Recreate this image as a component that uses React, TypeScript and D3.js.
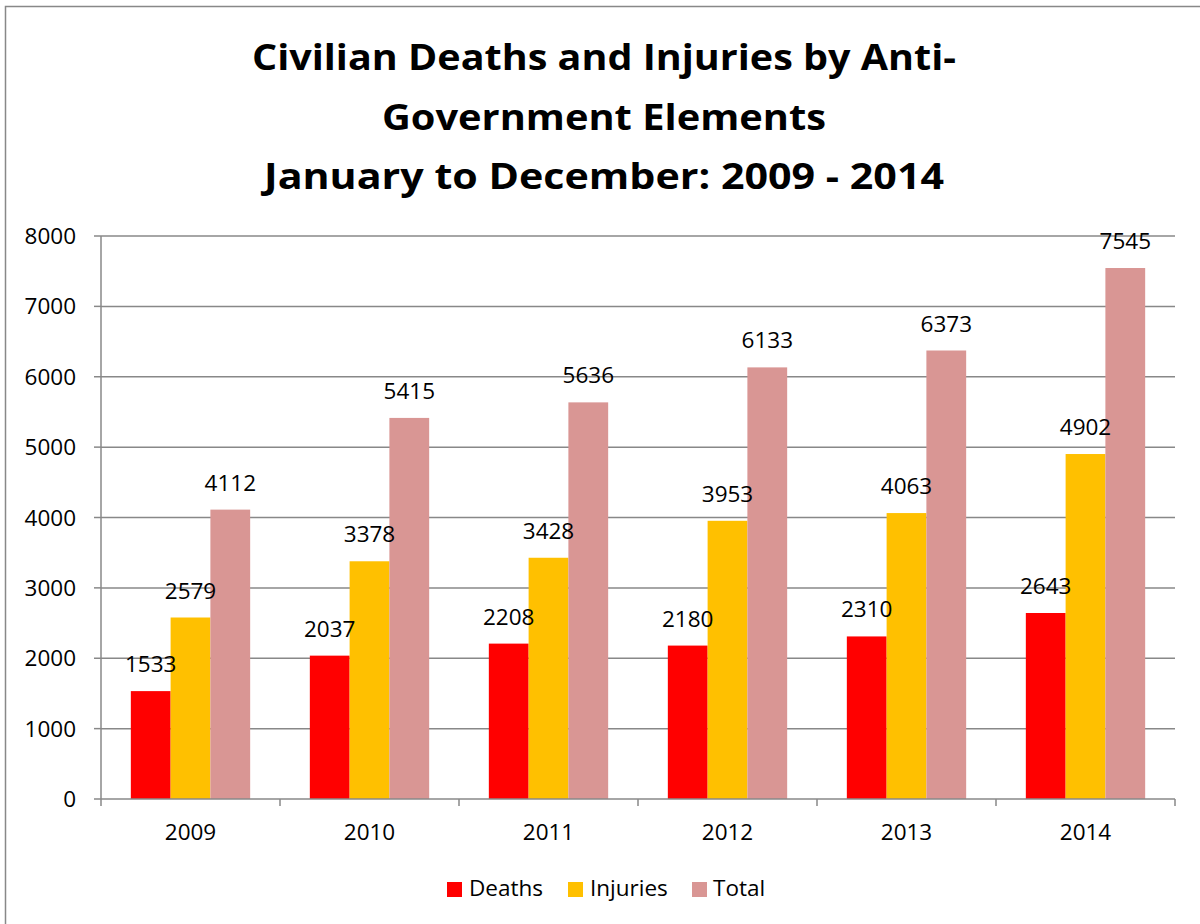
import React from "react";
import * as d3 from "d3";

const years = ["2009", "2010", "2011", "2012", "2013", "2014"];
const deaths = [1533, 2037, 2208, 2180, 2310, 2643];
const injuries = [2579, 3378, 3428, 3953, 4063, 4902];
const totals = [4112, 5415, 5636, 6133, 6373, 7545];
const seriesNames = ["Deaths", "Injuries", "Total"];
const seriesColors = ["#FF0000", "#FFC000", "#D99694"];
const yTicks = [0, 1000, 2000, 3000, 4000, 5000, 6000, 7000, 8000];
const titleLines = [
  "Civilian Deaths and Injuries by Anti-",
  "Government Elements",
  "January to December: 2009 - 2014",
];

const W = 1200;
const H = 924;
const left = 101;
const right = 1175;
const top = 236;
const bottom = 799;
const FONT = "'Open Sans', 'Liberation Sans', sans-serif";
const FS = 22.5;

export default function App() {
  const series = [deaths, injuries, totals];
  const x = d3.scaleBand<string>().domain(years).range([left, right]).paddingInner(0).paddingOuter(0);
  const y = d3.scaleLinear().domain([0, 8000]).range([bottom, top]);
  const bw = x.bandwidth();
  const barW = bw / (3 + 1.5);
  const groupPad = (bw - 3 * barW) / 2;
  const xs = d3.scaleBand<number>().domain([0, 1, 2]).range([0, 3 * barW]).padding(0);
  const barX = (i: number, k: number) => (x(years[i]) as number) + groupPad + (xs(k) as number);

  const titleLengths = [704, 444, 680];
  const titleBaselines = [70, 130, 189];

  const legendItems = [
    { sq: 447, tx: 469 },
    { sq: 568, tx: 590 },
    { sq: 692, tx: 713 },
  ];

  return (
    <svg
      width={W}
      height={H}
      style={{ position: "absolute", left: 0, top: 0, background: "#fff" }}
      fontFamily={FONT}
    >
      <rect x={0} y={0} width={W} height={H} fill="#fff" />
      <rect x={5.5} y={6.5} width={W + 20} height={H + 20} fill="none" stroke="#888" strokeWidth={1.5} />

      {titleLines.map((t, i) => (
        <text
          key={i}
          x={W / 2 + 4}
          y={titleBaselines[i]}
          textAnchor="middle"
          fontSize={36}
          fontWeight="bold"
          fill="#000"
          textLength={titleLengths[i]}
          lengthAdjust="spacingAndGlyphs"
        >
          {t}
        </text>
      ))}

      {/* gridlines */}
      {yTicks.map((t) => (
        <g key={t}>
          {t > 0 && (
            <line x1={left} x2={right} y1={y(t)} y2={y(t)} stroke="#888" strokeWidth={1.5} />
          )}
          <line x1={94} x2={left} y1={y(t)} y2={y(t)} stroke="#888" strokeWidth={1.5} />
          <text x={76} y={y(t)} dy="0.36em" textAnchor="end" fontSize={FS} fill="#000">
            {t}
          </text>
        </g>
      ))}

      {/* bars */}
      {years.map((yr, i) => (
        <g key={yr}>
          {series.map((s, k) => (
            <rect
              key={k}
              x={barX(i, k)}
              y={y(s[i])}
              width={xs.bandwidth()}
              height={bottom - y(s[i])}
              fill={seriesColors[k]}
            />
          ))}
        </g>
      ))}

      {/* axes */}
      <line x1={left} x2={left} y1={top} y2={bottom} stroke="#888" strokeWidth={1.5} />
      <line x1={left} x2={right} y1={bottom} y2={bottom} stroke="#888" strokeWidth={1.5} />
      {years.map((yr) => (
        <line key={"t" + yr} x1={x(yr)} x2={x(yr)} y1={bottom} y2={806} stroke="#888" strokeWidth={1.5} />
      ))}
      <line x1={right} x2={right} y1={bottom} y2={806} stroke="#888" strokeWidth={1.5} />

      {/* data labels on top */}
      {years.map((yr, i) => (
        <g key={"dl" + yr}>
          {series.map((s, k) => (
            <text
              key={k}
              x={barX(i, k) + xs.bandwidth() / 2}
              y={y(s[i]) - 19}
              textAnchor="middle"
              fontSize={FS}
              fill="#000"
            >
              {s[i]}
            </text>
          ))}
        </g>
      ))}

      {years.map((yr) => (
        <text
          key={"l" + yr}
          x={(x(yr) as number) + bw / 2}
          y={840}
          textAnchor="middle"
          fontSize={FS}
          fill="#000"
        >
          {yr}
        </text>
      ))}

      {/* legend */}
      {seriesNames.map((n, k) => (
        <g key={n}>
          <rect x={legendItems[k].sq} y={882} width={15} height={15} fill={seriesColors[k]} />
          <text x={legendItems[k].tx} y={896} fontSize={FS} fill="#000">
            {n}
          </text>
        </g>
      ))}
    </svg>
  );
}
